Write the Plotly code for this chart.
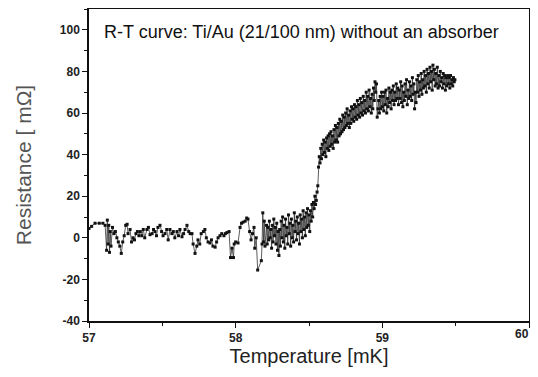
import plotly.graph_objects as go

# Temperature [mK] and Resistance [mOhm]
temp_low = [57.000, 57.018, 57.041, 57.070, 57.095, 57.110, 57.120, 57.125, 57.130, 57.135,
            57.140, 57.145, 57.150, 57.160, 57.170, 57.180, 57.190, 57.200, 57.210, 57.220,
            57.230, 57.240, 57.250, 57.260, 57.266, 57.280, 57.290, 57.300, 57.310, 57.320,
            57.330, 57.340, 57.350, 57.360, 57.370, 57.380, 57.395, 57.405, 57.416, 57.430,
            57.440, 57.450, 57.460, 57.470, 57.484, 57.495, 57.505, 57.518, 57.530, 57.540,
            57.552, 57.565, 57.575, 57.585, 57.600, 57.610, 57.620, 57.634, 57.645, 57.655,
            57.668, 57.680, 57.690, 57.702, 57.710, 57.723, 57.735, 57.743, 57.755, 57.765,
            57.780, 57.790, 57.800, 57.812, 57.825, 57.835, 57.845, 57.860, 57.870, 57.880,
            57.893, 57.905, 57.920, 57.930, 57.940, 57.955, 57.965, 57.975, 57.985, 57.990,
            58.000, 58.016, 58.030, 58.040, 58.050, 58.065, 58.075, 58.084, 58.095, 58.105,
            58.115, 58.125, 58.130, 58.140, 58.150, 58.175, 58.180]
res_low = [4.5, 5.5, 7, 7, 7, 6, -6, 8.5, -3, 6,
           -7, 3, -4, 5, 2, 3, 0, -2, -4, -7.5,
           -2, 1, 6, 6.5, 2, 4, -2, 0, -1, 2,
           3, 1, 3, 1, 4, 0, 4, 5, 1.5, 2,
           4, 3, 1, 5, 6, 3, 1, 2, 4, -1,
           4, 2, 3, 0, 3, 1, 4, 0.5, 2, 4,
           6, 3, 2, 2, -3, -7.5, -4, -1, -3, 2,
           3, 4, 0, -2, -2.5, -1, -4, -4.5, -2, 0,
           1, 2, 1, 2, 2.5, 3, -9.5, -5, -9.5, -3,
           -2, -2.5, 5, 7, 7.5, 8, 9.5, 9, 3, -1,
           2, 5, -5, 0, -15.5, -11, -3]

temp_mid = [58.185, 58.19, 58.195, 58.20, 58.21, 58.215, 58.22, 58.225, 58.23, 58.235,
            58.24, 58.245, 58.25, 58.255, 58.26, 58.265, 58.27, 58.275, 58.28, 58.285,
            58.29, 58.295, 58.30, 58.305, 58.31, 58.315, 58.32, 58.325, 58.33, 58.335,
            58.34, 58.345, 58.35, 58.355, 58.36, 58.365, 58.37, 58.375, 58.38, 58.385,
            58.39, 58.395, 58.40, 58.405, 58.41, 58.415, 58.42, 58.425, 58.43, 58.435,
            58.44, 58.445, 58.45, 58.455, 58.46, 58.465, 58.47, 58.475, 58.48, 58.485,
            58.49, 58.495, 58.50, 58.505, 58.51, 58.515, 58.52, 58.525, 58.53, 58.535,
            58.54, 58.545]
res_mid = [12, -2, 8, -4, 6, -3, 5, -1, 8, 0,
           4, -5, 6, -2, 9, 1, 5, -3, 7, -6,
           3, -8.5, 4, -4, 8, 0, 10, -2, 6, -5,
           9, 1, 5, -3, 11, 2, 7, -4, 9, 0,
           6, -2, 12, 3, 8, -1, 10, 2, 7, -3,
           11, 3, 9, 0, 13, 4, 10, 1, 12, 5,
           14, 6, 11, 3, 13, 8, 16, 10, 17, 14,
           20, 16]

temp_high = [58.55, 58.555, 58.56, 58.565, 58.57, 58.575, 58.58, 58.585, 58.59, 58.595,
             58.60, 58.605, 58.61, 58.615, 58.62, 58.625, 58.63, 58.635, 58.64, 58.645,
             58.65, 58.655, 58.66, 58.665, 58.67, 58.675, 58.68, 58.685, 58.69, 58.695,
             58.70, 58.705, 58.71, 58.715, 58.72, 58.725, 58.73, 58.735, 58.74, 58.745,
             58.75, 58.755, 58.76, 58.765, 58.77, 58.775, 58.78, 58.785, 58.79, 58.795,
             58.80, 58.805, 58.81, 58.815, 58.82, 58.825, 58.83, 58.835, 58.84, 58.845,
             58.85, 58.855, 58.86, 58.865, 58.87, 58.875, 58.88, 58.885, 58.89, 58.895,
             58.90, 58.905, 58.91, 58.915, 58.92, 58.925, 58.93, 58.935, 58.94, 58.945,
             58.95, 58.955, 58.96, 58.965, 58.97, 58.975, 58.98, 58.985, 58.99, 58.995,
             59.00, 59.005, 59.01, 59.015, 59.02, 59.025, 59.03, 59.035, 59.04, 59.045,
             59.05, 59.055, 59.06, 59.065, 59.07, 59.075, 59.08, 59.085, 59.09, 59.095,
             59.10, 59.105, 59.11, 59.115, 59.12, 59.125, 59.13, 59.135, 59.14, 59.145,
             59.15, 59.155, 59.16, 59.165, 59.17, 59.175, 59.18, 59.185, 59.19, 59.195,
             59.20, 59.205, 59.21, 59.215, 59.22, 59.225, 59.23, 59.235, 59.24, 59.245,
             59.25, 59.255, 59.26, 59.265, 59.27, 59.275, 59.28, 59.285, 59.29, 59.295,
             59.30, 59.305, 59.31, 59.315, 59.32, 59.325, 59.33, 59.335, 59.34, 59.345,
             59.35, 59.355, 59.36, 59.365, 59.37, 59.375, 59.38, 59.385, 59.39, 59.395,
             59.40, 59.405, 59.41, 59.415, 59.42, 59.425, 59.43, 59.435, 59.44, 59.445,
             59.45, 59.455, 59.46, 59.465, 59.47, 59.475, 59.48, 59.485, 59.49, 59.495]
res_high = [18, 22, 25, 34, 39, 36, 43, 38, 45, 40,
            47, 41, 46, 39, 48, 43, 49, 42, 50, 44,
            51, 45, 49, 43, 52, 46, 54, 47, 53, 46,
            55, 49, 57, 50, 56, 51, 59, 52, 58, 53,
            60, 54, 62, 55, 59, 53, 61, 55, 63, 57,
            62, 56, 64, 58, 63, 57, 66, 59, 64, 58,
            67, 60, 65, 59, 68, 61, 66, 60, 70, 62,
            68, 61, 71, 63, 67, 60, 69, 62, 72, 66,
            75, 70, 74, 58, 62, 66, 60, 68, 62, 70,
            63, 68, 61, 70, 64, 71, 60, 67, 63, 72,
            65, 70, 62, 71, 66, 73, 64, 70, 66, 74,
            67, 72, 64, 71, 67, 75, 65, 73, 63, 70,
            66, 74, 68, 76, 64, 71, 67, 75, 68, 73,
            66, 77, 69, 74, 62, 70, 65, 76, 70, 78,
            68, 75, 71, 79, 69, 76, 72, 80, 73, 78,
            70, 81, 74, 79, 72, 82, 75, 80, 71, 83,
            76, 81, 73, 79, 74, 82, 72, 78, 73, 80,
            75, 77, 72, 79, 74, 78, 71, 77, 73, 78,
            74, 77, 72, 78, 74, 76, 73, 77, 75, 76]

temperature = temp_low + temp_mid + temp_high
resistance = res_low + res_mid + res_high

x_ticks = [57, 58, 59, 60]
y_ticks = [-40, -20, 0, 20, 40, 60, 80, 100]
title_text = "R-T curve: Ti/Au (21/100 nm) without an absorber"

fig = go.Figure()
fig.add_trace(go.Scatter(
    x=temperature, y=resistance, mode="lines+markers",
    line=dict(color="#333333", width=0.8),
    marker=dict(color="#111111", size=3, symbol="square"),
    showlegend=False,
))

font_family = "Liberation Sans, Arial, sans-serif"
tick_font = dict(size=12, weight="bold", color="#222", family=font_family)
# the last x tick label would be clipped at the window edge, so it is drawn
# as an annotation right-aligned to its tick instead
x_ticktext = [str(v) for v in x_ticks[:-1]] + [""]

# The page body adds an 8 px margin on every side; size the figure so the page
# does not overflow the 538x377 window, while the plot area lands where the
# reference has it.
fig.update_layout(
    width=529, height=361,
    margin=dict(l=81, r=8, t=1, b=48),
    paper_bgcolor="white", plot_bgcolor="white",
    font=dict(family=font_family, color="#111111"),
    xaxis=dict(
        range=[57, 60], tickvals=x_ticks, ticktext=x_ticktext,
        ticks="outside", ticklen=5, tickwidth=1.2, tickcolor="#111",
        minor=dict(dtick=0.5, ticks="outside", ticklen=3, tickwidth=1.2, tickcolor="#111"),
        showline=True, linecolor="#111", linewidth=1.5, mirror=True,
        showgrid=False, zeroline=False, automargin=False,
        tickfont=tick_font,
        title=dict(text="Temperature [mK]", font=dict(size=20, color="#222"), standoff=5),
    ),
    yaxis=dict(
        range=[-40, 110], tickvals=y_ticks, ticktext=[str(v) for v in y_ticks],
        ticks="outside", ticklen=5, tickwidth=1.2, tickcolor="#111",
        minor=dict(dtick=10, ticks="outside", ticklen=3, tickwidth=1.2, tickcolor="#111"),
        showline=True, linecolor="#111", linewidth=1.5, mirror=True,
        showgrid=False, zeroline=False, automargin=False,
        tickfont=tick_font,
        title=dict(text="Resistance [ mΩ]", font=dict(size=21, color="#555"), standoff=22),
    ),
    annotations=[
        dict(
            text=title_text, xref="paper", yref="paper", x=0.03, y=0.925,
            xanchor="left", yanchor="middle", showarrow=False,
            font=dict(size=18, color="#111", family=font_family),
        ),
        dict(
            text=str(x_ticks[-1]), xref="x", yref="paper", x=x_ticks[-1], y=0,
            xanchor="right", yanchor="top", xshift=2, yshift=-4, showarrow=False,
            font=tick_font,
        ),
    ],
)

fig.write_html("out.html")
